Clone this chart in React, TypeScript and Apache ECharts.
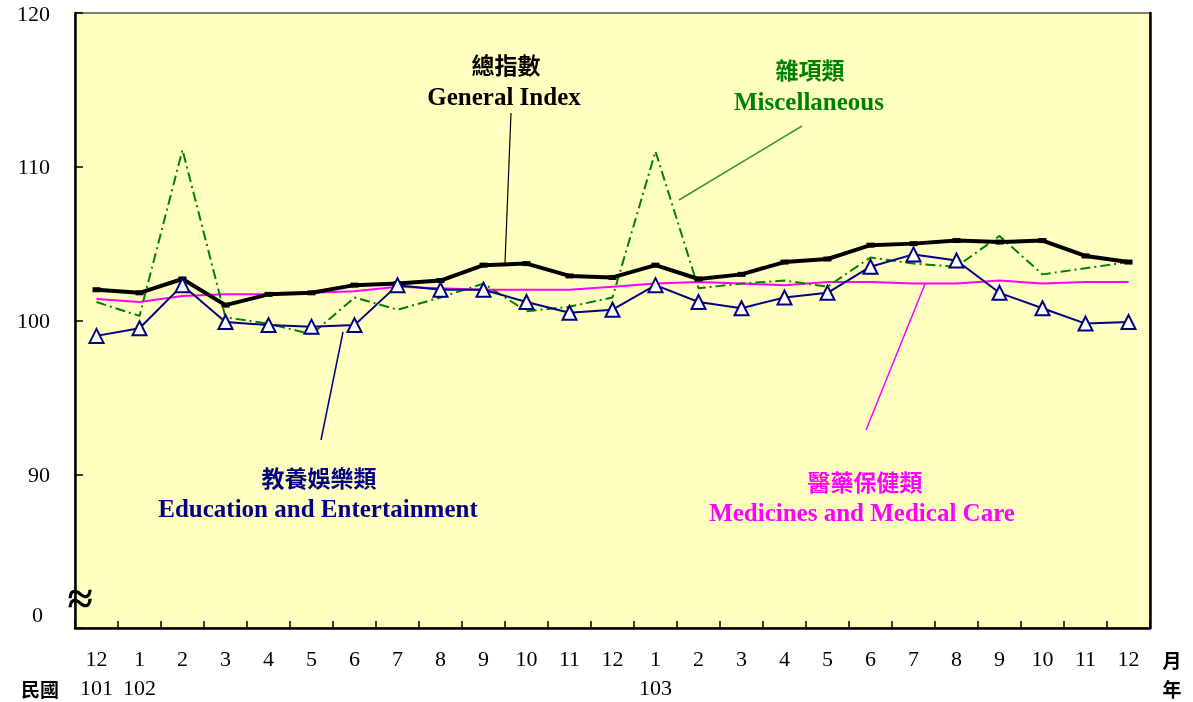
import React, { useEffect, useRef } from "react";
import * as echarts from "echarts";

const months = ["12", "1", "2", "3", "4", "5", "6", "7", "8", "9", "10", "11", "12", "1", "2", "3", "4", "5", "6", "7", "8", "9", "10", "11", "12"];
const years = ["101", "102", "", "", "", "", "", "", "", "", "", "", "", "103", "", "", "", "", "", "", "", "", "", "", ""];

const generalIndex = [102.0, 101.8, 102.7, 101.0, 101.7, 101.8, 102.3, 102.4, 102.6, 103.6, 103.7, 102.9, 102.8, 103.6, 102.7, 103.0, 103.8, 104.0, 104.9, 105.0, 105.2, 105.1, 105.2, 104.2, 103.8];
const miscellaneous = [101.2, 100.3, 111.1, 100.2, 99.8, 99.1, 101.5, 100.7, 101.5, 102.4, 100.6, 100.9, 101.5, 111.0, 102.1, 102.4, 102.6, 102.2, 104.1, 103.7, 103.5, 105.5, 103.0, 103.4, 103.8];
const education = [99.0, 99.5, 102.3, 99.9, 99.7, 99.6, 99.7, 102.3, 102.0, 102.0, 101.2, 100.5, 100.7, 102.3, 101.2, 100.8, 101.5, 101.8, 103.5, 104.3, 103.9, 101.8, 100.8, 99.8, 99.9];
const medicines = [101.4, 101.2, 101.6, 101.7, 101.7, 101.8, 101.9, 102.2, 102.1, 102.0, 102.0, 102.0, 102.2, 102.4, 102.5, 102.4, 102.3, 102.5, 102.5, 102.4, 102.4, 102.6, 102.4, 102.5, 102.5];

const yMin = 80;
const yMax = 120;
const yInterval = 10;

const SERIF = "'Liberation Serif', 'Times New Roman', serif";
const CJK = "'Noto Sans CJK TC', 'Noto Sans CJK SC', sans-serif";

function txt(text: string, x: number, y: number, color: string, font: string) {
  return {
    type: "text",
    z: 100,
    style: { text, x, y, fill: color, font, textAlign: "center", textVerticalAlign: "middle" },
  };
}
function ln(x1: number, y1: number, x2: number, y2: number, color: string, w: number) {
  return { type: "line", z: 100, shape: { x1, y1, x2, y2 }, style: { stroke: color, lineWidth: w } };
}

export default function App() {
  const ref = useRef<HTMLDivElement>(null);
  useEffect(() => {
    if (!ref.current) return;
    const chart = echarts.init(ref.current, undefined, { renderer: "svg" });
    const cats = months.map((m, i) => `${m}\n${years[i]}`);
    chart.setOption({
      animation: false,
      grid: {
        left: 75, right: 43, top: 13, bottom: 74,
        show: true, backgroundColor: "#ffffc0", borderColor: "#000", borderWidth: 1,
      },
      xAxis: {
        type: "category",
        data: cats,
        boundaryGap: true,
        axisLine: { show: true, lineStyle: { color: "#000", width: 2.5 } },
        axisTick: { show: true, inside: true, length: 7, interval: 0, lineStyle: { color: "#000", width: 1.5 } },
        axisLabel: { interval: 0, margin: 16, color: "#000", fontFamily: SERIF, fontSize: 22, lineHeight: 29 },
        splitLine: { show: false },
      },
      yAxis: [
        {
          type: "value", min: yMin, max: yMax, interval: yInterval,
          axisLine: { show: true, lineStyle: { color: "#000", width: 2.5 } },
          axisTick: { show: true, inside: true, length: 8, lineStyle: { color: "#000", width: 1.5 } },
          axisLabel: {
            margin: 25, color: "#000", fontFamily: SERIF, fontSize: 22,
            formatter: (v: number) => (v === yMin ? "" : String(v)),
          },
          splitLine: { show: false },
        },
        {
          type: "value", min: yMin, max: yMax, interval: yInterval, position: "right",
          axisLine: { show: true, lineStyle: { color: "#000", width: 2.5 } },
          axisTick: { show: false }, axisLabel: { show: false }, splitLine: { show: false },
        },
      ],
      series: [
        {
          name: "醫藥保健類", type: "line", data: medicines, symbol: "none",
          lineStyle: { color: "#ff00ff", width: 2 }, z: 2,
        },
        {
          name: "雜項類", type: "line", data: miscellaneous, symbol: "none",
          lineStyle: { color: "#008000", width: 2, type: [10, 4, 2, 4] }, z: 3,
        },
        {
          name: "總指數", type: "line", data: generalIndex, symbol: "rect", symbolSize: [8, 5],
          itemStyle: { color: "#000" },
          lineStyle: { color: "#000", width: 4 }, z: 4,
        },
        {
          name: "教養娛樂類", type: "line", data: education, symbol: "triangle", symbolSize: 14,
          itemStyle: { color: "#ffffff", borderColor: "#000080", borderWidth: 2 },
          lineStyle: { color: "#000080", width: 2 }, z: 5,
        },
      ],
      graphic: [
        txt("總指數", 506, 64, "#000", `bold 23px ${CJK}`),
        txt("General Index", 504, 96, "#000", `bold 25px ${SERIF}`),
        ln(511, 113, 505, 263, "#000", 1.2),
        txt("雜項類", 810, 69, "#008000", `bold 23px ${CJK}`),
        txt("Miscellaneous", 809, 101, "#008000", `bold 25px ${SERIF}`),
        ln(802, 126, 679, 200, "#339933", 1.5),
        txt("教養娛樂類", 319, 477, "#000080", `bold 23px ${CJK}`),
        txt("Education and Entertainment", 318, 508, "#000080", `bold 25px ${SERIF}`),
        ln(343, 332, 321, 440, "#000080", 1.5),
        txt("醫藥保健類", 865, 481, "#ff00ff", `bold 23px ${CJK}`),
        txt("Medicines and Medical Care", 862, 512, "#ff00ff", `bold 25px ${SERIF}`),
        ln(925, 284, 866, 430, "#ff00ff", 1.5),
        {
          type: "text", z: 100,
          style: { text: "0", x: 43, y: 614, fill: "#000", font: `22px ${SERIF}`, textAlign: "right", textVerticalAlign: "middle" },
        },
        txt("≈", 80, 598, "#000", `bold 46px ${SERIF}`),
        txt("民國", 40, 688, "#000", `bold 19px ${CJK}`),
        txt("月", 1172, 659, "#000", `bold 19px ${CJK}`),
        txt("年", 1172, 688, "#000", `bold 19px ${CJK}`),
      ],
    });
    return () => chart.dispose();
  }, []);
  return <div ref={ref} style={{ position: "fixed", left: 0, top: 0, width: 1193, height: 702 }} />;
}
